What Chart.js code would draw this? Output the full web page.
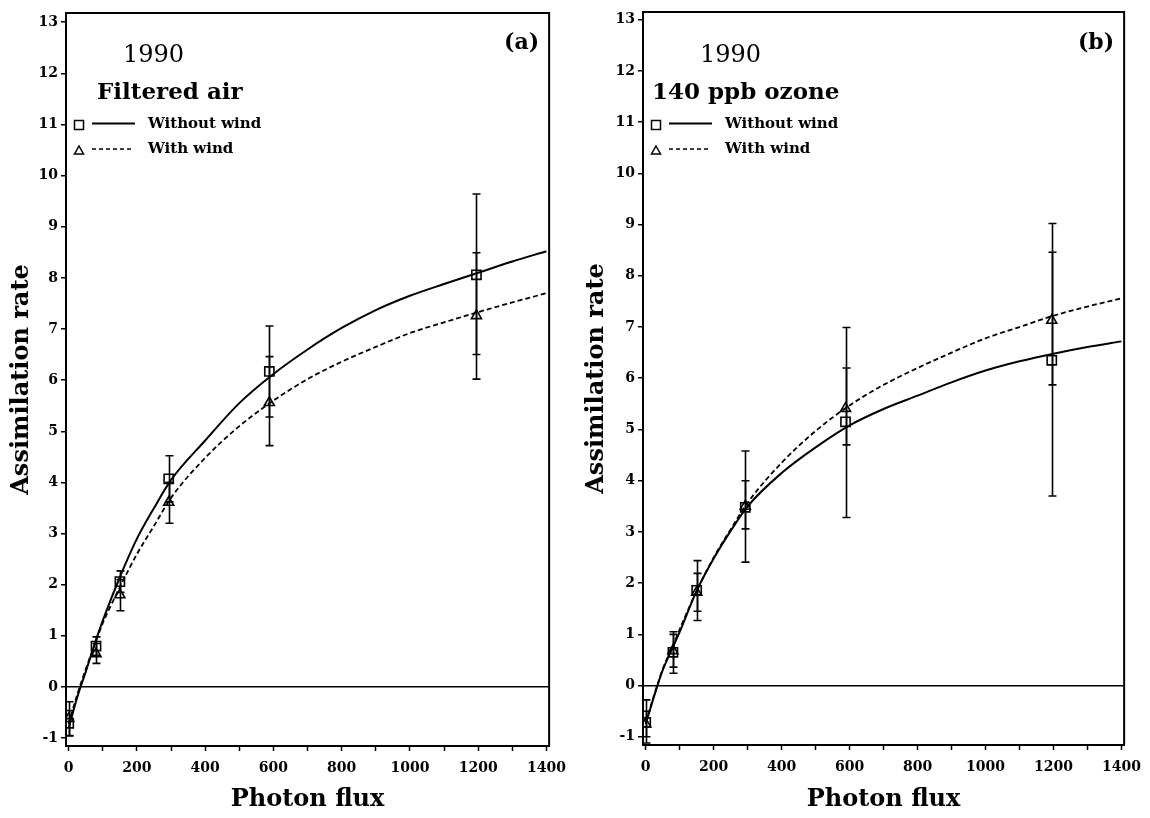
<!DOCTYPE html>
<html>
<head>
<meta charset="utf-8">
<title>Assimilation rate vs photon flux, 1990</title>
<script src="https://cdn.jsdelivr.net/npm/chart.js@4.4.1/dist/chart.umd.min.js"></script>
<style>
  html, body { margin: 0; padding: 0; background: #fff; }
  #wrap { position: relative; width: 1150px; height: 818px; overflow: hidden; }
  .panel { position: absolute; top: 0; width: 575px; height: 818px; }
  #panelA { left: 0; }
  #panelB { left: 575px; }
</style>
</head>
<body>
<div id="wrap">
  <div class="panel" id="panelA"><canvas id="chartA" width="575" height="818"></canvas></div>
  <div class="panel" id="panelB"><canvas id="chartB" width="575" height="818"></canvas></div>
</div>
<script>
const SERIF = "'DejaVu Serif', 'Liberation Serif', serif";

// measured photon flux levels (same in both panels)
const photonFlux = [0, 80, 150, 293, 588, 1195];

// axis ticks
const xTicks = [0, 100, 200, 300, 400, 500, 600, 700, 800, 900, 1000, 1100, 1200, 1300, 1400];
const yTicks = [-1, 0, 1, 2, 3, 4, 5, 6, 7, 8, 9, 10, 11, 12, 13];

// (a) filtered air - means and error bar ends
const aNoWind   = [-0.71, 0.80, 2.06, 4.07, 6.17, 8.06];
const aNoWindLo = [-0.96, 0.62, 1.85, 3.62, 5.28, 6.50];
const aNoWindHi = [-0.46, 0.98, 2.27, 4.52, 7.06, 9.64];
const aWind     = [-0.62, 0.65, 1.80, 3.61, 5.56, 7.26];
const aWindLo   = [-0.95, 0.46, 1.49, 3.20, 4.72, 6.02];
const aWindHi   = [-0.29, 0.85, 2.10, 4.00, 6.46, 8.49];

// (b) 140 ppb ozone
const bNoWind   = [-0.72, 0.65, 1.86, 3.48, 5.15, 6.35];
const bNoWindLo = [-1.12, 0.24, 1.27, 2.41, 3.28, 3.70];
const bNoWindHi = [-0.28, 1.05, 2.44, 4.58, 6.99, 9.02];
const bWind     = [-0.75, 0.68, 1.82, 3.50, 5.41, 7.13];
const bWindLo   = [-1.00, 0.36, 1.45, 3.06, 4.70, 5.87];
const bWindHi   = [-0.50, 1.00, 2.19, 4.00, 6.20, 8.46];

// fitted curves at these flux values
const curveFlux  = [0, 25, 50, 80, 100, 150, 200, 250, 300, 400, 500, 600, 700, 800, 900, 1000, 1100, 1200, 1300, 1400];
const aFitNoWind = [-0.80, -0.20, 0.30, 0.92, 1.30, 2.15, 2.90, 3.50, 4.05, 4.82, 5.55, 6.12, 6.60, 7.02, 7.37, 7.65, 7.88, 8.10, 8.32, 8.52];
const aFitWind   = [-0.72, -0.15, 0.35, 0.90, 1.25, 1.95, 2.60, 3.15, 3.70, 4.48, 5.10, 5.60, 6.02, 6.36, 6.65, 6.92, 7.13, 7.33, 7.52, 7.70];
const bFitNoWind = [-0.75, -0.20, 0.30, 0.75, 1.05, 1.85, 2.48, 3.02, 3.50, 4.15, 4.65, 5.08, 5.40, 5.66, 5.92, 6.15, 6.33, 6.48, 6.61, 6.72];
const bFitWind   = [-0.72, -0.18, 0.32, 0.78, 1.10, 1.85, 2.50, 3.05, 3.57, 4.35, 4.97, 5.47, 5.87, 6.20, 6.50, 6.78, 7.00, 7.22, 7.40, 7.56];

const toPoints = (xs, ys) => xs.map((x, i) => ({ x, y: ys[i] }));

// vertical error bars with caps
const errorBars = {
    id: 'errorBars',
    afterDatasetsDraw(chart) {
        const { ctx, scales: { x, y } } = chart;
        ctx.save();
        ctx.strokeStyle = '#000';
        ctx.lineWidth = 1.6;
        chart.data.datasets.forEach(ds => {
            if (!ds.errLo) return;
            ds.data.forEach((p, i) => {
                const px = Math.round(x.getPixelForValue(p.x)) + 0.5;
                const top = y.getPixelForValue(ds.errHi[i]);
                const bot = y.getPixelForValue(ds.errLo[i]);
                ctx.beginPath();
                ctx.moveTo(px, top); ctx.lineTo(px, bot);
                ctx.moveTo(px - 4, top); ctx.lineTo(px + 4, top);
                ctx.moveTo(px - 4, bot); ctx.lineTo(px + 4, bot);
                ctx.stroke();
            });
        });
        ctx.restore();
    }
};

// top/right frame, labels and the hand-placed legend
const panelText = {
    id: 'panelText',
    afterDraw(chart, args, opts) {
        const { ctx, chartArea: a } = chart;
        const labels = chart.data.datasets.map(d => d.label);
        ctx.save();
        ctx.strokeStyle = '#000';
        ctx.lineWidth = 2;
        ctx.beginPath();
        ctx.moveTo(a.left, a.top);
        ctx.lineTo(a.right, a.top);
        ctx.lineTo(a.right, a.bottom);
        ctx.stroke();

        ctx.fillStyle = '#000';
        ctx.textBaseline = 'alphabetic';
        ctx.font = `24px ${SERIF}`;
        ctx.fillText(opts.year, a.left + 57, 62);
        ctx.font = `bold 23px ${SERIF}`;
        ctx.fillText(opts.treatment, a.left + opts.treatmentDx, 99);
        ctx.textAlign = 'right';
        ctx.font = `bold 22px ${SERIF}`;
        ctx.fillText(opts.tag, a.right - 10, 49);

        // legend
        const mx = a.left + 13;
        ctx.lineWidth = 1.5;
        ctx.strokeRect(mx - 4.5, 120.5, 9, 9);
        ctx.beginPath();
        ctx.moveTo(mx, 146); ctx.lineTo(mx + 4.5, 154); ctx.lineTo(mx - 4.5, 154); ctx.closePath();
        ctx.stroke();
        ctx.lineWidth = 2;
        ctx.beginPath();
        ctx.moveTo(a.left + 26, 123.5); ctx.lineTo(a.left + 69, 123.5);
        ctx.stroke();
        ctx.setLineDash([4, 3]);
        ctx.lineWidth = 1.6;
        ctx.beginPath();
        ctx.moveTo(a.left + 26, 149); ctx.lineTo(a.left + 68, 149);
        ctx.stroke();
        ctx.setLineDash([]);
        ctx.textAlign = 'left';
        ctx.font = `bold 15px ${SERIF}`;
        ctx.fillText(labels[0], a.left + 82, 128);
        ctx.fillText(labels[1], a.left + 82, 153);
        ctx.restore();
    }
};

function makePanel(canvasId, p) {
    return new Chart(document.getElementById(canvasId), {
        type: 'scatter',
        data: {
            datasets: [
                {
                    label: 'Without wind',
                    data: toPoints(photonFlux, p.noWind),
                    errLo: p.noWindLo, errHi: p.noWindHi,
                    pointStyle: 'rect', pointRadius: 6.5,
                    borderColor: '#000', backgroundColor: 'rgba(0,0,0,0)', borderWidth: 1.6
                },
                {
                    label: 'With wind',
                    data: toPoints(photonFlux, p.wind),
                    errLo: p.windLo, errHi: p.windHi,
                    pointStyle: 'triangle', pointRadius: 5.8,
                    borderColor: '#000', backgroundColor: 'rgba(0,0,0,0)', borderWidth: 1.6
                },
                {
                    label: 'Without wind fit',
                    data: toPoints(curveFlux, p.fitNoWind),
                    showLine: true, pointRadius: 0,
                    borderColor: '#000', borderWidth: 2,
                    cubicInterpolationMode: 'monotone'
                },
                {
                    label: 'With wind fit',
                    data: toPoints(curveFlux, p.fitWind),
                    showLine: true, pointRadius: 0,
                    borderColor: '#000', borderWidth: 1.8, borderDash: [5, 3],
                    cubicInterpolationMode: 'monotone'
                }
            ]
        },
        options: {
            responsive: false,
            animation: false,
            layout: { padding: { top: p.padTop, right: p.padRight, left: 0, bottom: 0 } },
            plugins: {
                legend: { display: false },
                tooltip: { enabled: false },
                panelText: { year: '1990', treatment: p.treatment, treatmentDx: p.treatmentDx, tag: p.tag }
            },
            scales: {
                x: {
                    type: 'linear',
                    min: -8, max: 1408,
                    afterBuildTicks: s => { s.ticks = xTicks.map(v => ({ value: v })); },
                    afterFit: s => { s.height = p.xHeight; },
                    ticks: {
                        autoSkip: false, maxRotation: 0, padding: 9, color: '#000',
                        font: { family: SERIF, size: 14, weight: 'bold' },
                        callback: v => (v % 200 === 0 ? String(v) : '')
                    },
                    grid: { drawOnChartArea: false, drawTicks: true, tickLength: 5, tickColor: '#000', tickWidth: 1.5 },
                    border: { display: true, color: '#000', width: 2 },
                    title: {
                        display: true, text: 'Photon flux', color: '#000',
                        font: { family: SERIF, size: 24, weight: 'bold' },
                        padding: { top: 0, bottom: 4 }
                    }
                },
                y: {
                    type: 'linear',
                    min: p.yMin, max: p.yMax,
                    afterBuildTicks: s => { s.ticks = yTicks.map(v => ({ value: v })); },
                    afterFit: s => { s.width = p.yWidth; },
                    ticks: {
                        padding: 3, color: '#000',
                        font: { family: SERIF, size: 14, weight: 'bold' }
                    },
                    grid: {
                        drawOnChartArea: true, drawTicks: true, tickLength: 5,
                        color: c => (c.tick && c.tick.value === 0 ? '#000' : 'rgba(0,0,0,0)'),
                        lineWidth: 1.5, tickColor: '#000', tickWidth: 1.5
                    },
                    border: { display: true, color: '#000', width: 2 },
                    title: {
                        display: true, text: 'Assimilation rate', color: '#000',
                        font: { family: SERIF, size: 24, weight: 'bold' },
                        padding: { top: 7, bottom: 0 }
                    }
                }
            }
        },
        plugins: [errorBars, panelText]
    });
}

makePanel('chartA', {
    noWind: aNoWind, noWindLo: aNoWindLo, noWindHi: aNoWindHi,
    wind: aWind, windLo: aWindLo, windHi: aWindHi,
    fitNoWind: aFitNoWind, fitWind: aFitWind,
    treatment: 'Filtered air', treatmentDx: 31, tag: '(a)',
    yMin: -1.155, yMax: 13.18, padTop: 13, padRight: 22, yWidth: 66, xHeight: 72
});

makePanel('chartB', {
    noWind: bNoWind, noWindLo: bNoWindLo, noWindHi: bNoWindHi,
    wind: bWind, windLo: bWindLo, windHi: bWindHi,
    fitNoWind: bFitNoWind, fitWind: bFitWind,
    treatment: '140 ppb ozone', treatmentDx: 9, tag: '(b)',
    yMin: -1.16, yMax: 13.15, padTop: 12, padRight: 18, yWidth: 68, xHeight: 73
});
</script>
</body>
</html>
